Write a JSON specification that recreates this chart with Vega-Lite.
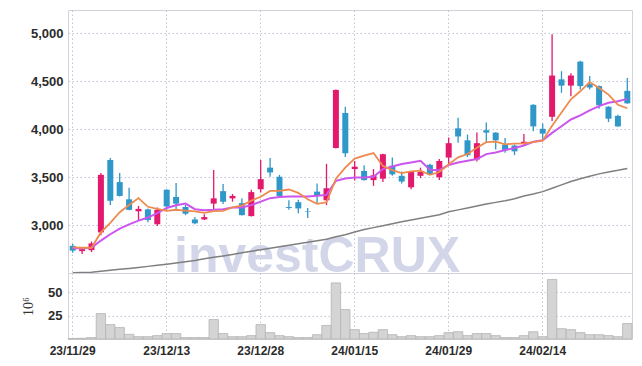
{
  "$schema": "https://vega.github.io/schema/vega-lite/v6.json",
  "background": "white",
  "padding": {"left": 21, "top": 9, "right": 5, "bottom": 5},
  "autosize": {"type": "pad"},
  "spacing": 0,
  "bounds": "flush",
  "config": {
    "view": {"stroke": "#d2d2da", "strokeWidth": 1},
    "axis": {
      "labelFont": "Liberation Sans",
      "labelFontWeight": "bold",
      "labelColor": "#2b2b2b",
      "labelFontSize": 13,
      "gridColor": "#c2c5d8",
      "gridDash": [1.5, 2.5],
      "gridWidth": 1,
      "domain": false,
      "ticks": false
    }
  },
  "resolve": {"scale": {"x": "independent", "y": "independent"}},
  "datasets": {
    "k": [
      {"d":"23/11/29","o":2785,"h":2805,"l":2714,"c":2735,"v":0.5,"m5":2770,"m10":2760,"m60":2505},
      {"d":"23/11/30","o":2730,"h":2760,"l":2700,"c":2750,"v":0.8,"m5":2765,"m10":2760,"m60":2507},
      {"d":"23/12/01","o":2740,"h":2830,"l":2720,"c":2810,"v":1.5,"m5":2765,"m10":2766,"m60":2510},
      {"d":"23/12/04","o":2925,"h":3545,"l":2895,"c":3525,"v":27.2,"m5":2925,"m10":2840,"m60":2520},
      {"d":"23/12/05","o":3680,"h":3700,"l":3210,"c":3255,"v":15.4,"m5":3025,"m10":2906,"m60":2530},
      {"d":"23/12/06","o":3450,"h":3545,"l":3300,"c":3305,"v":12.2,"m5":3135,"m10":2965,"m60":2540},
      {"d":"23/12/07","o":3270,"h":3390,"l":3155,"c":3160,"v":5.0,"m5":3211,"m10":3008,"m60":2550},
      {"d":"23/12/08","o":3145,"h":3200,"l":3045,"c":3170,"v":2.5,"m5":3283,"m10":3048,"m60":2560},
      {"d":"23/12/11","o":3165,"h":3175,"l":3030,"c":3055,"v":2.5,"m5":3192,"m10":3080,"m60":2571},
      {"d":"23/12/12","o":3010,"h":3185,"l":2993,"c":3160,"v":3.6,"m5":3170,"m10":3125,"m60":2582},
      {"d":"23/12/13","o":3370,"h":3375,"l":3160,"c":3195,"v":5.8,"m5":3150,"m10":3180,"m60":2594},
      {"d":"23/12/14","o":3295,"h":3440,"l":3160,"c":3225,"v":5.8,"m5":3161,"m10":3208,"m60":2607},
      {"d":"23/12/15","o":3190,"h":3210,"l":3105,"c":3120,"v":1.5,"m5":3151,"m10":3226,"m60":2620},
      {"d":"23/12/18","o":3060,"h":3085,"l":3010,"c":3020,"v":1.5,"m5":3144,"m10":3167,"m60":2633},
      {"d":"23/12/19","o":3060,"h":3115,"l":3055,"c":3085,"v":1.5,"m5":3129,"m10":3157,"m60":2650},
      {"d":"23/12/20","o":3225,"h":3575,"l":3165,"c":3280,"v":20.8,"m5":3146,"m10":3160,"m60":2665},
      {"d":"23/12/21","o":3355,"h":3430,"l":3220,"c":3245,"v":5.8,"m5":3150,"m10":3167,"m60":2680},
      {"d":"23/12/22","o":3280,"h":3325,"l":3245,"c":3305,"v":2.5,"m5":3187,"m10":3184,"m60":2695},
      {"d":"23/12/26","o":3230,"h":3280,"l":3100,"c":3105,"v":2.5,"m5":3204,"m10":3184,"m60":2712},
      {"d":"23/12/27","o":3095,"h":3370,"l":3090,"c":3345,"v":3.6,"m5":3256,"m10":3209,"m60":2728},
      {"d":"23/12/28","o":3375,"h":3680,"l":3340,"c":3480,"v":15.4,"m5":3296,"m10":3246,"m60":2745},
      {"d":"24/01/02","o":3600,"h":3700,"l":3505,"c":3550,"v":6.8,"m5":3357,"m10":3282,"m60":2760},
      {"d":"24/01/03","o":3505,"h":3525,"l":3295,"c":3305,"v":3.6,"m5":3357,"m10":3295,"m60":2775},
      {"d":"24/01/04","o":3190,"h":3260,"l":3160,"c":3180,"v":2.5,"m5":3372,"m10":3300,"m60":2790},
      {"d":"24/01/05","o":3240,"h":3265,"l":3125,"c":3175,"v":1.5,"m5":3338,"m10":3298,"m60":2807},
      {"d":"24/01/08","o":3145,"h":3180,"l":3075,"c":3140,"v":1.5,"m5":3270,"m10":3299,"m60":2822},
      {"d":"24/01/09","o":3350,"h":3435,"l":3230,"c":3315,"v":4.6,"m5":3223,"m10":3306,"m60":2838},
      {"d":"24/01/10","o":3260,"h":3640,"l":3210,"c":3385,"v":14.5,"m5":3239,"m10":3316,"m60":2854},
      {"d":"24/01/11","o":3805,"h":4415,"l":3800,"c":4410,"v":60,"m5":3485,"m10":3462,"m60":2880},
      {"d":"24/01/12","o":4170,"h":4235,"l":3712,"c":3750,"v":31.5,"m5":3600,"m10":3487,"m60":2900},
      {"d":"24/01/15","o":3585,"h":3670,"l":3465,"c":3610,"v":10,"m5":3694,"m10":3497,"m60":2930},
      {"d":"24/01/16","o":3565,"h":3625,"l":3465,"c":3470,"v":5.8,"m5":3725,"m10":3497,"m60":2955},
      {"d":"24/01/17","o":3470,"h":3585,"l":3410,"c":3520,"v":7.2,"m5":3752,"m10":3504,"m60":2975},
      {"d":"24/01/18","o":3485,"h":3745,"l":3450,"c":3740,"v":10,"m5":3618,"m10":3585,"m60":2995},
      {"d":"24/01/19","o":3620,"h":3705,"l":3515,"c":3530,"v":4.6,"m5":3574,"m10":3612,"m60":3015},
      {"d":"24/01/22","o":3515,"h":3560,"l":3435,"c":3455,"v":2.5,"m5":3543,"m10":3637,"m60":3035},
      {"d":"24/01/23","o":3395,"h":3565,"l":3375,"c":3560,"v":3.6,"m5":3561,"m10":3654,"m60":3055},
      {"d":"24/01/24","o":3515,"h":3600,"l":3490,"c":3555,"v":2.5,"m5":3568,"m10":3671,"m60":3072},
      {"d":"24/01/25","o":3630,"h":3640,"l":3525,"c":3530,"v":2.5,"m5":3526,"m10":3578,"m60":3090},
      {"d":"24/01/26","o":3500,"h":3690,"l":3470,"c":3670,"v":3.6,"m5":3554,"m10":3574,"m60":3110},
      {"d":"24/01/29","o":3705,"h":3915,"l":3640,"c":3855,"v":6.8,"m5":3634,"m10":3627,"m60":3140},
      {"d":"24/01/30","o":4010,"h":4120,"l":3860,"c":3925,"v":7.8,"m5":3707,"m10":3654,"m60":3160},
      {"d":"24/01/31","o":3885,"h":3945,"l":3710,"c":3730,"v":3.6,"m5":3742,"m10":3671,"m60":3180},
      {"d":"24/02/01","o":3685,"h":3965,"l":3665,"c":3855,"v":5.8,"m5":3807,"m10":3689,"m60":3200},
      {"d":"24/02/02","o":3990,"h":4070,"l":3865,"c":3965,"v":5.8,"m5":3866,"m10":3741,"m60":3220},
      {"d":"24/02/05","o":3965,"h":3970,"l":3790,"c":3885,"v":3.6,"m5":3872,"m10":3758,"m60":3238},
      {"d":"24/02/06","o":3840,"h":3910,"l":3755,"c":3780,"v":1.5,"m5":3843,"m10":3783,"m60":3255},
      {"d":"24/02/07","o":3830,"h":3840,"l":3730,"c":3770,"v":1.5,"m5":3851,"m10":3804,"m60":3275},
      {"d":"24/02/08","o":3850,"h":3950,"l":3830,"c":3870,"v":3.6,"m5":3854,"m10":3830,"m60":3305},
      {"d":"24/02/13","o":4255,"h":4260,"l":3980,"c":4030,"v":7.8,"m5":3867,"m10":3869,"m60":3325},
      {"d":"24/02/14","o":4005,"h":4060,"l":3895,"c":3955,"v":2.5,"m5":3881,"m10":3886,"m60":3350},
      {"d":"24/02/15","o":4130,"h":4990,"l":4085,"c":4560,"v":63.6,"m5":4037,"m10":3962,"m60":3385},
      {"d":"24/02/16","o":4520,"h":4605,"l":4380,"c":4455,"v":11,"m5":4174,"m10":4032,"m60":3420},
      {"d":"24/02/19","o":4455,"h":4585,"l":4345,"c":4560,"v":10,"m5":4312,"m10":4102,"m60":3455},
      {"d":"24/02/20","o":4705,"h":4715,"l":4415,"c":4450,"v":6.8,"m5":4396,"m10":4144,"m60":3485},
      {"d":"24/02/21","o":4470,"h":4555,"l":4415,"c":4435,"v":4.6,"m5":4492,"m10":4196,"m60":3510},
      {"d":"24/02/22","o":4450,"h":4455,"l":4215,"c":4250,"v":4.6,"m5":4430,"m10":4241,"m60":3535},
      {"d":"24/02/23","o":4235,"h":4240,"l":4075,"c":4110,"v":3.6,"m5":4361,"m10":4276,"m60":3555},
      {"d":"24/02/26","o":4140,"h":4150,"l":4025,"c":4030,"v":2.5,"m5":4255,"m10":4293,"m60":3572},
      {"d":"24/02/27","o":4400,"h":4535,"l":4265,"c":4270,"v":16.5,"m5":4219,"m10":4317,"m60":3592}
    ],
    "wm": [{"d":"24/01/09","p":2512,"t":"investCRUX"}]
  },
  "vconcat": [
    {
      "width": 564,
      "height": 263,
      "encoding": {
        "x": {
          "field": "d", "type": "ordinal",
          "scale": {"domain": ["23/11/29","23/11/30","23/12/01","23/12/04","23/12/05","23/12/06","23/12/07","23/12/08","23/12/11","23/12/12","23/12/13","23/12/14","23/12/15","23/12/18","23/12/19","23/12/20","23/12/21","23/12/22","23/12/26","23/12/27","23/12/28","24/01/02","24/01/03","24/01/04","24/01/05","24/01/08","24/01/09","24/01/10","24/01/11","24/01/12","24/01/15","24/01/16","24/01/17","24/01/18","24/01/19","24/01/22","24/01/23","24/01/24","24/01/25","24/01/26","24/01/29","24/01/30","24/01/31","24/02/01","24/02/02","24/02/05","24/02/06","24/02/07","24/02/08","24/02/13","24/02/14","24/02/15","24/02/16","24/02/19","24/02/20","24/02/21","24/02/22","24/02/23","24/02/26","24/02/27"], "paddingInner": 0, "paddingOuter": 0},
          "axis": {"labels": false, "title": null, "grid": true, "bandPosition": 0.5, "minExtent": 0, "maxExtent": 0, "labelPadding": 0, "values": ["23/11/29","23/12/13","23/12/28","24/01/15","24/01/29","24/02/14"]}
        }
      },
      "layer": [
        {
          "data": {"name": "wm"},
          "mark": {"type": "text", "font": "Liberation Sans", "fontWeight": "bold", "fontSize": 50, "color": "#d2d6e8", "align": "center", "baseline": "alphabetic", "clip": false},
          "encoding": {
            "y": {"field": "p", "type": "quantitative", "scale": {"domain": [2502, 5243], "nice": false, "zero": false}, "axis": {"title": null, "values": [3000, 3500, 4000, 4500, 5000], "format": ",.0f", "grid": true, "labelPadding": 5}},
            "text": {"field": "t"}
          }
        },
        {
          "data": {"name": "k"},
          "mark": {"type": "rule", "strokeWidth": 1.3},
          "encoding": {
            "y": {"field": "l", "type": "quantitative"},
            "y2": {"field": "h"},
            "color": {"condition": {"test": "datum.c >= datum.o", "value": "#e2196c"}, "value": "#3097c9"}
          }
        },
        {
          "data": {"name": "k"},
          "mark": {"type": "bar", "size": 6},
          "encoding": {
            "y": {"field": "o", "type": "quantitative"},
            "y2": {"field": "c"},
            "color": {"condition": {"test": "datum.c >= datum.o", "value": "#e2196c"}, "value": "#3097c9"}
          }
        },
        {
          "data": {"name": "k"},
          "mark": {"type": "line", "color": "#7f7f7f", "strokeWidth": 1.5},
          "encoding": {"y": {"field": "m60", "type": "quantitative"}}
        },
        {
          "data": {"name": "k"},
          "mark": {"type": "line", "color": "#cc55ee", "strokeWidth": 2},
          "encoding": {"y": {"field": "m10", "type": "quantitative"}}
        },
        {
          "data": {"name": "k"},
          "mark": {"type": "line", "color": "#ef8a4e", "strokeWidth": 1.8},
          "encoding": {"y": {"field": "m5", "type": "quantitative"}}
        }
      ]
    },
    {
      "width": 564,
      "height": 66,
      "data": {"name": "k"},
      "mark": {"type": "bar", "fill": "#d4d4d4", "stroke": "#b4b4b4", "strokeWidth": 0.8, "width": {"band": 1}},
      "encoding": {
        "x": {
          "field": "d", "type": "ordinal",
          "scale": {"domain": ["23/11/29","23/11/30","23/12/01","23/12/04","23/12/05","23/12/06","23/12/07","23/12/08","23/12/11","23/12/12","23/12/13","23/12/14","23/12/15","23/12/18","23/12/19","23/12/20","23/12/21","23/12/22","23/12/26","23/12/27","23/12/28","24/01/02","24/01/03","24/01/04","24/01/05","24/01/08","24/01/09","24/01/10","24/01/11","24/01/12","24/01/15","24/01/16","24/01/17","24/01/18","24/01/19","24/01/22","24/01/23","24/01/24","24/01/25","24/01/26","24/01/29","24/01/30","24/01/31","24/02/01","24/02/02","24/02/05","24/02/06","24/02/07","24/02/08","24/02/13","24/02/14","24/02/15","24/02/16","24/02/19","24/02/20","24/02/21","24/02/22","24/02/23","24/02/26","24/02/27"], "paddingInner": 0, "paddingOuter": 0},
          "axis": {"title": null, "grid": true, "bandPosition": 0.5, "labelAngle": 0, "labelFontSize": 12, "labelPadding": 6, "values": ["23/11/29","23/12/13","23/12/28","24/01/15","24/01/29","24/02/14"]}
        },
        "y": {
          "field": "v", "type": "quantitative",
          "scale": {"domain": [0, 70.6], "nice": false},
          "axis": {"title": "10⁶", "titleFont": "Liberation Serif", "titleFontWeight": "normal", "titleFontSize": 14, "titleColor": "#333333", "titlePadding": 12, "values": [25, 50], "grid": true, "labelPadding": 6}
        }
      }
    }
  ]
}
